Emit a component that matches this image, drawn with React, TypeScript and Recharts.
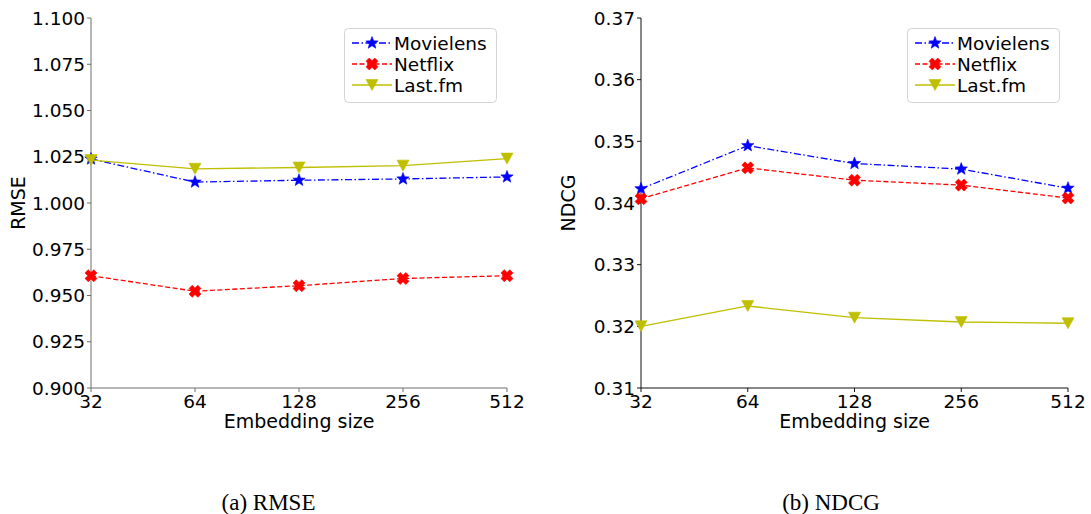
import React from 'react';
import {
	LineChart,
	Line,
	XAxis,
	YAxis,
	Legend,
	Label,
} from 'recharts';

// values
const sizes = ['32', '64', '128', '256', '512'];

const rmseMovielens = [1.0238, 1.0113, 1.0123, 1.013, 1.0141];
const rmseNetflix = [0.9607, 0.9523, 0.9553, 0.9592, 0.9607];
const rmseLastfm = [1.0232, 1.0185, 1.0192, 1.0202, 1.024];

const ndcgMovielens = [0.3423, 0.3493, 0.3464, 0.3455, 0.3424];
const ndcgNetflix = [0.3407, 0.3457, 0.3437, 0.3429, 0.3408];
const ndcgLastfm = [0.32, 0.3233, 0.3214, 0.3207, 0.3205];

const rmseTicks = [0.9, 0.925, 0.95, 0.975, 1.0, 1.025, 1.05, 1.075, 1.1];
const ndcgTicks = [0.31, 0.32, 0.33, 0.34, 0.35, 0.36, 0.37];

const seriesNames = ['Movielens', 'Netflix', 'Last.fm'];
const seriesColors = ['#0000ff', '#ff0000', '#bfbf00'];
const seriesDash = ['7 2.5 1.5 2.5', '5 2.5', undefined];

const FONT = '"DejaVu Sans", sans-serif';

const buildRows = (a: number[], b: number[], c: number[]) =>
	sizes.map((s, i) => ({ size: s, s0: a[i], s1: b[i], s2: c[i] }));

const rmseData = buildRows(rmseMovielens, rmseNetflix, rmseLastfm);
const ndcgData = buildRows(ndcgMovielens, ndcgNetflix, ndcgLastfm);

// matplotlib-like marker shapes
const starPath = (cx: number, cy: number, r: number) => {
	const inner = r * 0.42;
	let d = '';
	for (let k = 0; k < 10; k++) {
		const rad = k % 2 === 0 ? r : inner;
		const a = -Math.PI / 2 + (k * Math.PI) / 5;
		d += (k === 0 ? 'M' : 'L') + (cx + rad * Math.cos(a)).toFixed(2) + ',' + (cy + rad * Math.sin(a)).toFixed(2);
	}
	return d + 'Z';
};

const xPath = (cx: number, cy: number, r: number, w: number) => {
	const pts = [
		[-w, -r], [w, -r], [w, -w], [r, -w], [r, w], [w, w],
		[w, r], [-w, r], [-w, w], [-r, w], [-r, -w], [-w, -w],
	];
	const c = Math.SQRT1_2;
	return (
		pts
			.map(([x, y], k) => (k === 0 ? 'M' : 'L') + (cx + (x - y) * c).toFixed(2) + ',' + (cy + (x + y) * c).toFixed(2))
			.join('') + 'Z'
	);
};

const triPath = (cx: number, cy: number) =>
	`M${cx - 6},${cy - 5.5}L${cx + 6},${cy - 5.5}L${cx},${cy + 5.5}Z`;

const Marker = ({ idx, cx, cy }: { idx: number; cx: number; cy: number }) => {
	const color = seriesColors[idx];
	if (idx === 0) return <path d={starPath(cx, cy, 6.5)} fill={color} stroke={color} strokeWidth={0.6} />;
	if (idx === 1) return <path d={xPath(cx, cy, 6.2, 2.3)} fill={color} stroke={color} strokeWidth={0.6} />;
	return <path d={triPath(cx, cy)} fill={color} stroke={color} strokeWidth={0.6} />;
};

const makeDot = (idx: number) => (props: any) => {
	const { cx, cy, index } = props;
	if (cx == null || cy == null) return <g key={`d-${idx}-${index}`} />;
	return (
		<g key={`d-${idx}-${index}`}>
			<Marker idx={idx} cx={cx} cy={cy} />
		</g>
	);
};

const LegendBox = () => (
	<svg width={153} height={75} style={{ display: 'block' }}>
		<rect x={0.5} y={0.5} width={152} height={74} rx={4} fill='#fff' fillOpacity={0.8} stroke='#d3d3d3' />
		{seriesNames.map((name, i) => {
			const cy = 15 + i * 21;
			return (
				<g key={name}>
					<line x1={8} x2={48} y1={cy} y2={cy} stroke={seriesColors[i]} strokeWidth={1.3} strokeDasharray={seriesDash[i]} />
					<Marker idx={i} cx={28} cy={cy} />
					<text x={50} y={cy + 6.8} fontSize={18.5} fontFamily={FONT} fill='#000'>
						{name}
					</text>
				</g>
			);
		})}
	</svg>
);

interface PanelProps {
	data: any[];
	ticks: number[];
	digits: number;
	yLabel: string;
	width: number;
	marginLeft: number;
	marginRight: number;
	frame: string;
	legendLeft: number;
}

const Panel = ({ data, ticks, digits, yLabel, width, marginLeft, marginRight, frame, legendLeft }: PanelProps) => {
	const tickStyle = { fontSize: 18.5, fontFamily: FONT, fill: '#000' };
	const domain: [number, number] = [ticks[0], ticks[ticks.length - 1]];
	return (
		<LineChart
			width={width}
			height={440}
			data={data}
			margin={{ top: 18, right: marginRight, bottom: 22, left: marginLeft }}
		>
			<XAxis
				dataKey='size'
				interval={0}
				height={30}
				tick={tickStyle}
				tickSize={4}
				tickMargin={3}
				stroke={frame}
				tickLine={{ stroke: frame }}
			>
				<Label
					value='Embedding size'
					position='center'
					dy={18.5}
					style={{ fontSize: 19, fontFamily: FONT, fill: '#000' }}
				/>
			</XAxis>
			<XAxis xAxisId='t' dataKey='size' orientation='top' height={0} tick={false} tickLine={false} stroke={frame} />
			<YAxis
				domain={domain}
				ticks={ticks}
				width={60}
				allowDataOverflow
				tick={tickStyle}
				tickSize={4}
				tickMargin={2}
				stroke={frame}
				tickFormatter={(v: number) => v.toFixed(digits)}
			>
				<Label
					value={yLabel}
					angle={-90}
					position='center'
					dx={-43}
					style={{ fontSize: 19, fontFamily: FONT, fill: '#000' }}
				/>
			</YAxis>
			<YAxis yAxisId='r' orientation='right' domain={domain} width={0} tick={false} tickLine={false} stroke={frame} />
			{seriesNames.map((name, i) => (
				<Line
					key={name}
					type='linear'
					dataKey={`s${i}`}
					name={name}
					stroke={seriesColors[i]}
					strokeWidth={1.3}
					strokeDasharray={seriesDash[i]}
					dot={makeDot(i)}
					activeDot={false}
					isAnimationActive={false}
				/>
			))}
			<Legend
				layout='horizontal'
				align='center'
				verticalAlign='middle'
				wrapperStyle={{ left: legendLeft, top: 28, width: 153, height: 75 }}
				content={() => <LegendBox />}
			/>
		</LineChart>
	);
};

export default function App() {
	return (
		<div style={{ position: 'absolute', left: 0, top: 0, width: 1091, height: 514, background: '#fff' }}>
			<div style={{ position: 'absolute', left: 0, top: 0 }}>
				<Panel
					data={rmseData}
					ticks={rmseTicks}
					digits={3}
					yLabel='RMSE'
					width={540}
					marginLeft={31}
					marginRight={33}
					frame='#6e6e6e'
					legendLeft={344}
				/>
			</div>
			<div style={{ position: 'absolute', left: 545, top: 0 }}>
				<Panel
					data={ndcgData}
					ticks={ndcgTicks}
					digits={2}
					yLabel='NDCG'
					width={546}
					marginLeft={36}
					marginRight={23}
					frame='#111'
					legendLeft={362}
				/>
			</div>
			<svg width={1091} height={514} style={{ position: 'absolute', left: 0, top: 0, pointerEvents: 'none' }}>
				<text x={268.5} y={510} textAnchor='middle' fontSize={23} fontFamily='"Liberation Serif", serif' fill='#000'>
					(a) RMSE
				</text>
				<text x={831} y={510} textAnchor='middle' fontSize={23} fontFamily='"Liberation Serif", serif' fill='#000'>
					(b) NDCG
				</text>
			</svg>
		</div>
	);
}
